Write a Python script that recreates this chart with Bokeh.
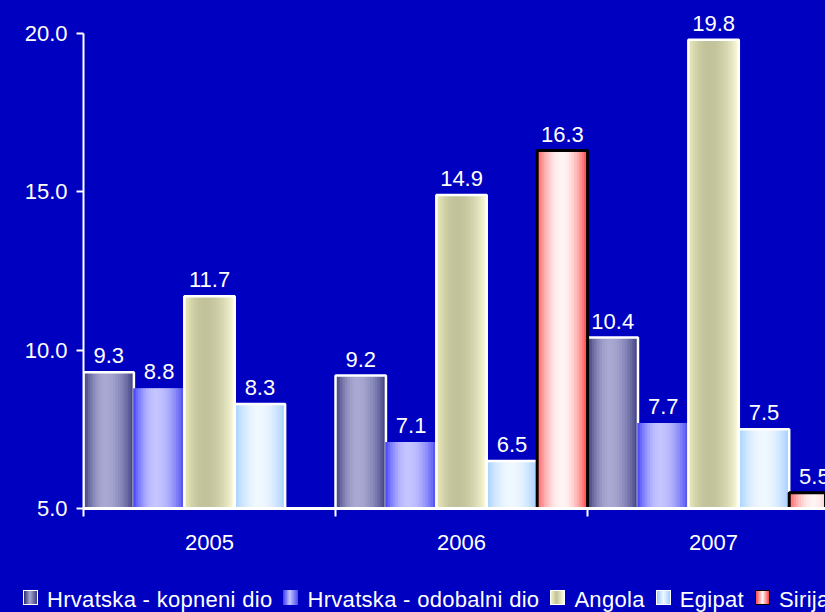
import math
from bokeh.plotting import figure
from bokeh.layouts import column
from bokeh.models import Range1d, FixedTicker, ColumnDataSource, NumeralTickFormatter, Div
from bokeh.core.properties import value
from bokeh.embed import file_html
from bokeh.resources import INLINE

# ---- data ----
categories = ["2005", "2006", "2007"]
series_names = ["Hrvatska - kopneni dio", "Hrvatska - odobalni dio", "Angola", "Egipat", "Sirija"]
kopneni = [9.3, 9.2, 10.4]
odobalni = [8.8, 7.1, 7.7]
angola = [11.7, 14.9, 19.8]
egipat = [8.3, 6.5, 7.5]
sirija = [None, 16.3, 5.5]
y_ticks = [5, 10, 15, 20]
series_values = [kopneni, odobalni, angola, egipat, sirija]

# ---- styles ----
BG = "#0000C0"
FONT = "Liberation Sans"
styles = [
    dict(left="#2B2B6E", center="#A8A8D2", right="#3C3C80", tc=0.45, line="white", lw=2.5),
    dict(left="#3A3AFF", center="#C4C4FF", right="#4848F2", tc=0.45, line=None, lw=0),
    dict(left="#F2F2C4", center="#C2C29A", right="#FFFFDE", tc=0.42, line="white", lw=2.5),
    dict(left="#9CCCFF", center="#F0F8FF", right="#A2CEFF", tc=0.5, line="white", lw=2.5),
    dict(left="#FF4848", center="#FFF4F4", right="#FF4040", tc=0.5, line="black", lw=3),
]
N_STRIPS = 20
BAR_W = 1.0 / len(series_names)
LABEL_PAD = 0.52  # data units above the bar top
BASE = y_ticks[0]


def hex2rgb(h):
    h = h.lstrip("#")
    return tuple(int(h[i:i + 2], 16) for i in (0, 2, 4))


def mix(a, b, f):
    ra, rb = hex2rgb(a), hex2rgb(b)
    return "#%02x%02x%02x" % tuple(int(round(ra[i] + (rb[i] - ra[i]) * f)) for i in range(3))


def profile(st, t):
    tc = st["tc"]
    if t < tc:
        g = math.sin(math.pi / 2 * t / tc) ** 0.8
        return mix(st["left"], st["center"], g)
    g = math.sin(math.pi / 2 * (1 - t) / (1 - tc)) ** 0.8
    return mix(st["right"], st["center"], g)


p = figure(width=825, height=578, output_backend="svg", toolbar_location=None,
           x_range=Range1d(0, 2.944), y_range=Range1d(5, 21.04),
           min_border_left=83, min_border_right=0, min_border_top=0, min_border_bottom=70)
p.background_fill_color = BG
p.border_fill_color = BG
p.outline_line_color = None
p.grid.visible = False

for s, (name, vals, st) in enumerate(zip(series_names, series_values, styles)):
    xs, tops, cols = [], [], []
    cx, ct = [], []
    for c, v in enumerate(vals):
        if v is None:
            continue
        x0 = c + s * BAR_W
        cx.append(x0 + BAR_W / 2)
        ct.append(v)
        for k in range(N_STRIPS):
            t = (k + 0.5) / N_STRIPS
            xs.append(x0 + t * BAR_W)
            tops.append(v)
            cols.append(profile(st, t))
    src = ColumnDataSource(dict(x=xs, top=tops, color=cols))
    p.vbar(x="x", top="top", bottom=BASE, width=BAR_W / N_STRIPS * 1.6, fill_color="color",
           line_color=None, source=src)
    if st["line"]:
        p.vbar(x=cx, top=ct, bottom=BASE, width=BAR_W, fill_color=None,
               line_color=st["line"], line_width=st["lw"])
    p.text(x=cx, y=[v + LABEL_PAD for v in ct], text=["%.1f" % v for v in ct], text_color="white",
           text_font=value(FONT), text_font_size="22px", text_align="center",
           text_baseline="alphabetic")

# x axis
p.xaxis.ticker = FixedTicker(ticks=[i + 0.5 for i in range(len(categories))],
                             minor_ticks=list(range(len(categories) + 1)))
p.xaxis.major_label_overrides = {i + 0.5: c for i, c in enumerate(categories)}
p.xaxis.major_tick_line_color = None
p.xaxis.major_tick_out = 0
p.xaxis.major_tick_in = 0
p.xaxis.minor_tick_out = 8
p.xaxis.minor_tick_in = 0
p.xaxis.minor_tick_line_color = "white"
p.xaxis.minor_tick_line_width = 2
p.xaxis.axis_line_color = "white"
p.xaxis.axis_line_width = 3
p.xaxis.major_label_standoff = 18
p.xaxis.major_label_text_color = "white"
p.xaxis.major_label_text_font = FONT
p.xaxis.major_label_text_font_size = "22px"

# y axis
p.yaxis.ticker = FixedTicker(ticks=y_ticks)
p.yaxis.formatter = NumeralTickFormatter(format="0.0")
p.yaxis.bounds = (5, 20)
p.yaxis.axis_line_color = "white"
p.yaxis.axis_line_width = 2
p.yaxis.major_tick_line_color = "white"
p.yaxis.major_tick_line_width = 2
p.yaxis.major_tick_out = 7
p.yaxis.major_tick_in = 0
p.yaxis.minor_tick_line_color = None
p.yaxis.major_label_standoff = 9
p.yaxis.major_label_text_color = "white"
p.yaxis.major_label_text_font = FONT
p.yaxis.major_label_text_font_size = "22px"

# legend strip below the chart
parts = []
for i, (name, st) in enumerate(zip(series_names, styles)):
    border = ("1.5px solid %s" % st["line"]) if st["line"] else "none"
    grad = "linear-gradient(to right, %s 0%%, %s %d%%, %s 100%%)" % (
        st["left"], st["center"], int(st["tc"] * 100), st["right"])
    swatch = ('<span style="display:inline-block;box-sizing:border-box;width:15px;height:15px;'
              'border:%s;background:%s;vertical-align:2px;margin-right:9px;"></span>' % (border, grad))
    gap = "margin-right:11px;" if i < len(series_names) - 1 else ""
    parts.append('<span style="white-space:nowrap;%s">%s%s</span>' % (gap, swatch, name))
legend_html = ('<div style="font-family:\'%s\';font-size:22px;letter-spacing:0.3px;color:white;'
               'white-space:nowrap;line-height:24px;padding-top:10px;padding-left:23px;">%s</div>'
               % (FONT, "".join(parts)))
leg = Div(text=legend_html, width=825, height=34, margin=(0, 0, 0, 0),
          styles={"background-color": BG, "overflow": "hidden"})

layout = column(p, leg, spacing=0)
html = file_html(layout, INLINE)
html = html.replace("</head>", "<style>html, body { background-color: #0000C0; overflow: hidden; }</style></head>", 1)
open("out.html", "w").write(html)
